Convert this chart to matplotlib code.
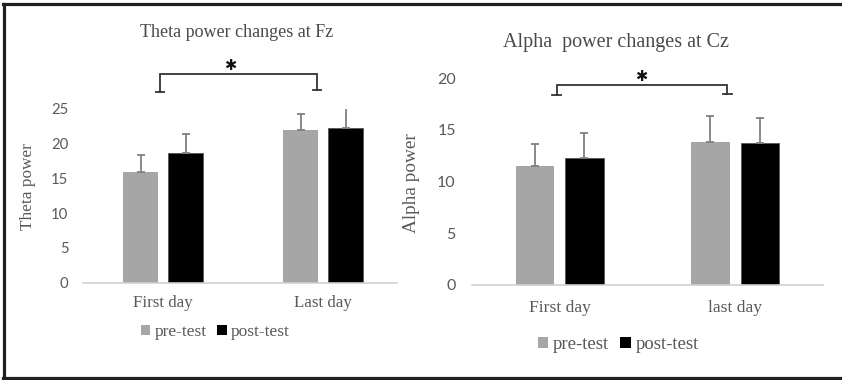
import matplotlib
matplotlib.use("Agg")
import matplotlib.pyplot as plt
from matplotlib.lines import Line2D
from matplotlib.patches import Patch
import numpy as np

# ---- data ----
days_left = ["First day", "Last day"]
days_right = ["First day", "last day"]
series = ["pre-test", "post-test"]

theta_pre = [16.0, 22.0]
theta_pre_err = [2.4, 2.3]
theta_post = [18.6, 22.2]
theta_post_err = [2.8, 2.9]

alpha_pre = [11.55, 13.85]
alpha_pre_err = [2.05, 2.5]
alpha_post = [12.3, 13.7]
alpha_post_err = [2.4, 2.5]

theta_ticks = [0, 5, 10, 15, 20, 25]
alpha_ticks = [0, 5, 10, 15, 20]

# significance brackets: (x_left, x_right, top, left_end, right_end, star_x)
theta_sig = (-0.02, 0.96, 30.0, 27.4, 27.8, 0.42)
alpha_sig = (-0.017, 0.955, 19.35, 18.4, 18.5, 0.467)

titles = ["Theta power changes at Fz", "Alpha  power changes at Cz"]
ylabels = ["Theta power", "Alpha power"]

# ---- style ----
GRAY_BAR = "#a6a6a6"
BLACK_BAR = "#000000"
ERR = "#808080"
TXT = "#595959"
SERIF = ["Liberation Serif", "DejaVu Serif"]
SANS = ["Lato", "DejaVu Sans"]

W, H = 842, 380
fig = plt.figure(figsize=(W / 100, H / 100), dpi=100)


def px_axes(x0, x1, ytop, ybot):
    return fig.add_axes([x0 / W, (H - ybot) / H, (x1 - x0) / W, (ybot - ytop) / H])


def draw(ax, cats, pre, pre_err, post, post_err, ticks, xlim, sig, title, title_xy,
         title_fs, ylabel, ylabel_xy, ylabel_fs, tick_fs, ytick_pad, xtick_pad,
         xl_fs, leg_xy, leg_fs):
    x = np.arange(len(cats))
    off, bw = 0.141, 0.22
    ax.bar(x - off, pre, bw, color=GRAY_BAR, zorder=2)
    ax.bar(x + off, post, bw, color=BLACK_BAR, edgecolor="#555555", linewidth=0.6, zorder=2)
    ekw = dict(fmt="none", ecolor=ERR, elinewidth=1.3, capsize=3.2, capthick=1.3, zorder=3)
    ax.errorbar(x - off, pre, yerr=[np.zeros(len(pre)), pre_err], **ekw)
    ax.errorbar(x + off, post, yerr=[np.zeros(len(post)), post_err], **ekw)

    ax.set_xlim(*xlim)
    ax.set_ylim(ticks[0], ticks[-1])
    ax.set_yticks(ticks)
    ax.set_xticks(x)
    ax.set_xticklabels(cats, fontfamily=SERIF, fontsize=xl_fs, color=TXT)
    for lab in ax.get_yticklabels():
        lab.set_fontfamily(SANS)
        lab.set_fontsize(tick_fs)
        lab.set_color(TXT)
    ax.tick_params(axis="y", length=0, pad=ytick_pad)
    ax.tick_params(axis="x", length=0, pad=xtick_pad)
    for s in ["top", "right", "left"]:
        ax.spines[s].set_visible(False)
    ax.spines["bottom"].set_color("#d0d0d0")
    ax.spines["bottom"].set_linewidth(1.2)

    ax.set_ylabel(ylabel, fontfamily=SERIF, fontsize=ylabel_fs, color=TXT)
    ax.yaxis.set_label_coords(*ylabel_xy)
    ax.text(title_xy[0], title_xy[1], title, transform=ax.transAxes, ha="center",
            va="center", fontfamily=SERIF, fontsize=title_fs, color="#4a4a4a", clip_on=False)

    # significance bracket
    xl, xr, top, le, re_, sx = sig
    ax.plot([xl, xl, xr, xr], [le, top, top, re_], color="#333333", lw=1.3, clip_on=False,
            solid_joinstyle="miter")
    cw = 0.026
    ax.plot([xl - cw, xl + cw], [le, le], color="#333333", lw=1.3, clip_on=False)
    ax.plot([xr - cw, xr + cw], [re_, re_], color="#333333", lw=1.3, clip_on=False)
    ax.annotate("\u2731", xy=(sx, top), xytext=(0, 6), textcoords="offset points",
                ha="center", va="center", fontsize=10.5,
                fontfamily="DejaVu Sans", color="#111111", annotation_clip=False)

    handles = [Patch(facecolor=GRAY_BAR, edgecolor="none", label=series[0]),
               Patch(facecolor=BLACK_BAR, edgecolor="none", label=series[1])]
    leg = ax.legend(handles=handles, loc="center", bbox_to_anchor=leg_xy, ncol=2,
                    frameon=False, handlelength=0.55, handleheight=0.55,
                    handletextpad=0.25, columnspacing=0.6,
                    prop={"family": SERIF, "size": leg_fs})
    for t in leg.get_texts():
        t.set_color(TXT)


ax1 = px_axes(83, 397, 109, 282.7)
draw(ax1, days_left, theta_pre, theta_pre_err, theta_post, theta_post_err, theta_ticks,
     (-0.501, 1.461), theta_sig, titles[0], (0.489, 1.438), 13, ylabels[0],
     (-0.150, 0.551), 12.4, 10.7, 10.5, 8.5, 12.2, (0.422, -0.284), 12.5)

ax2 = px_axes(471.7, 823.3, 78.3, 285)
draw(ax2, days_right, alpha_pre, alpha_pre_err, alpha_post, alpha_post_err, alpha_ticks,
     (-0.501, 1.502), alpha_sig, titles[1], (0.41, 1.171), 14.5, ylabels[1],
     (-0.147, 0.493), 13.9, 11.5, 11.5, 10.5, 12.6, (0.417, -0.29), 13.5)

# outer border (left, top, bottom)
bc = "#231f20"
fig.add_artist(Line2D([3.5 / W, 3.5 / W], [(H - 377.5) / H, (H - 3.5) / H],
                      transform=fig.transFigure, color=bc, lw=2.3))
fig.add_artist(Line2D([2.5 / W, 1.0], [(H - 3.5) / H, (H - 3.5) / H],
                      transform=fig.transFigure, color=bc, lw=2.3))
fig.add_artist(Line2D([2.5 / W, 1.0], [(H - 377.5) / H, (H - 377.5) / H],
                      transform=fig.transFigure, color=bc, lw=2.3))

fig.savefig("out.png", dpi=100)
